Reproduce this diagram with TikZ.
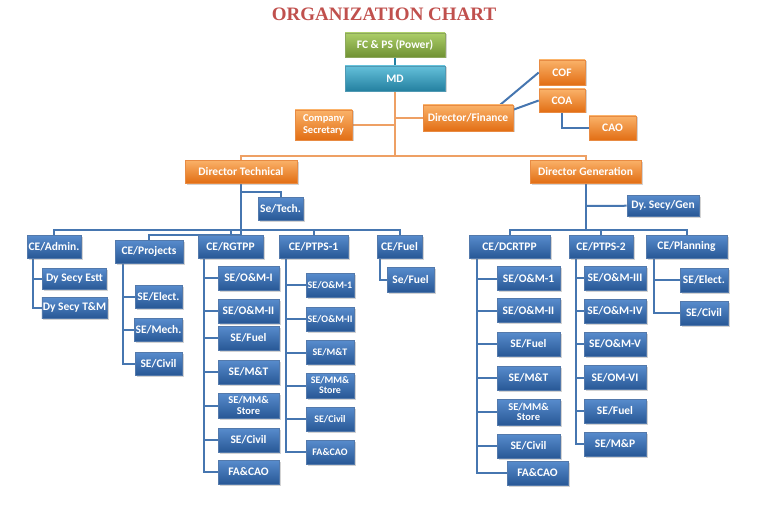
\documentclass[tikz,border=0pt]{standalone}
\usepackage{fontspec}
\setmainfont{Carlito}
\newfontfamily\titlefont{Liberation Serif}
\usetikzlibrary{positioning,shadows,backgrounds}
\definecolor{chartred}{RGB}{192,80,77}
\definecolor{bluelt}{RGB}{88,140,205}
\definecolor{bluedk}{RGB}{40,88,150}
\definecolor{orglt}{RGB}{250,178,105}
\definecolor{orgdk}{RGB}{226,110,20}
\definecolor{grnlt}{RGB}{172,206,104}
\definecolor{grndk}{RGB}{112,146,52}
\definecolor{cynlt}{RGB}{100,192,218}
\definecolor{cyndk}{RGB}{36,128,160}
\definecolor{lineblue}{RGB}{70,118,176}
\definecolor{lineorg}{RGB}{238,160,100}

\begin{document}
\begin{tikzpicture}[x=1pt,y=-1pt,
  font=\bfseries\fontsize{11.5}{12}\selectfont,
  blk/.style={minimum height=23pt,inner sep=1pt,align=center,text=white,line width=0.6pt,
    drop shadow={opacity=0.35,shadow xshift=1.5pt,shadow yshift=-1.5pt}},
  bx/.style={blk,draw=bluedk!80!white,top color=bluelt,bottom color=bluedk,minimum width=#1},
  bx/.default=61pt,
  ob/.style={blk,draw=orgdk!80!white,top color=orglt,bottom color=orgdk,minimum width=#1},
  ob/.default=46pt,
  se/.style={bx=#1,minimum height=24pt},
  se/.default=61pt,
  sm/.style={se=48pt,font=\bfseries\fontsize{10}{10}\selectfont},
  two/.style={font=\bfseries\fontsize{10.5}{10.5}\selectfont},
  bl/.style={draw=lineblue,line width=2pt},
  ol/.style={draw=lineorg,line width=2pt}]

\useasboundingbox (0,0) rectangle (768,532);

\node[font=\titlefont\bfseries\fontsize{19}{20}\selectfont,text=chartred] (title) at (384,14) {ORGANIZATION CHART};

% top of the chart
\node[blk,draw=grndk!80!white,top color=grnlt,bottom color=grndk,minimum width=100pt,minimum height=24pt] (fcps) at (395,45) {FC \& PS (Power)};
\node[blk,draw=cyndk!80!white,top color=cynlt,bottom color=cyndk,minimum width=100pt,minimum height=25pt] (md) at (395,78.5) {MD};
\node[ob=57pt,minimum height=30pt,font=\bfseries\fontsize{10.5}{12}\selectfont] (cosec) at (323.5,125) {Company\\Secretary};
\node[ob=90pt,minimum height=26pt] (dirfin) at (468,118) {Director/Finance};
\node[ob,minimum height=25pt] (cof) at (562,72.5) {COF};
\node[ob] (coa) at (562,100.5) {COA};
\node[ob=47pt,minimum height=24pt] (cao) at (612.5,128) {CAO};
\node[ob=112pt] (dirtech) at (241,171.5) {Director Technical};
\node[ob=111pt] (dirgen) at (585.5,171.5) {Director Generation};

% technical wing
\node[bx=45pt] (setech) at (280.5,208.5) {Se/Tech.};
\node[bx=54pt] (ceadmin) at (54,246.5) {CE/Admin.};
\node[bx=64pt,minimum height=21pt] (dyestt) at (74.5,279) {Dy Secy Estt};
\node[bx=64pt,minimum height=21pt] (dytm) at (74.5,307.5) {Dy Secy T\&M};
\node[bx=68pt] (ceproj) at (149,251.5) {CE/Projects};
\node[bx=47pt] (prelect) at (158.5,296.5) {SE/Elect.};
\node[bx=47pt] (prmech) at (158.5,330) {SE/Mech.};
\node[bx=47pt] (prcivil) at (158.5,363.5) {SE/Civil};
\node[bx=65pt] (cergtpp) at (230.5,246.5) {CE/RGTPP};
\node[se] (rgom1) at (248.5,278) {SE/O\&M-I};
\node[se] (rgom2) at (248.5,311) {SE/O\&M-II};
\node[se] (rgfuel) at (248.5,338) {SE/Fuel};
\node[se] (rgmt) at (248.5,372) {SE/M\&T};
\node[se,minimum height=25pt,two] (rgmm) at (248.5,405.5) {SE/MM\&\\Store};
\node[se] (rgcivil) at (248.5,440) {SE/Civil};
\node[se] (rgfa) at (248.5,472) {FA\&CAO};
\node[bx=69pt] (ceptps1) at (313.5,246.5) {CE/PTPS-1};
\node[sm] (p1om1) at (330,285) {SE/O\&M-1};
\node[sm] (p1om2) at (330,319) {SE/O\&M-II};
\node[sm] (p1mt) at (330,352.5) {SE/M\&T};
\node[sm,minimum height=25pt] (p1mm) at (330,385.5) {SE/MM\&\\Store};
\node[sm] (p1civil) at (330,419) {SE/Civil};
\node[sm] (p1fa) at (330,452) {FA\&CAO};
\node[bx=45pt] (cefuel) at (399.5,246.5) {CE/Fuel};
\node[bx=47pt,minimum height=25pt] (sefuel) at (410.5,279.5) {Se/Fuel};

% generation wing
\node[bx=72pt,minimum height=21pt] (dygen) at (663,205.5) {Dy.\ Secy/Gen};
\node[bx=81pt] (cedcr) at (509.5,246.5) {CE/DCRTPP};
\node[se=63pt] (dcom1) at (528.5,278.5) {SE/O\&M-1};
\node[se=63pt] (dcom2) at (528.5,310.5) {SE/O\&M-II};
\node[se=63pt] (dcfuel) at (528.5,344) {SE/Fuel};
\node[se=63pt] (dcmt) at (528.5,378) {SE/M\&T};
\node[se=63pt,minimum height=26pt,two] (dcmm) at (528.5,412) {SE/MM\&\\Store};
\node[se=63pt] (dccivil) at (528.5,446) {SE/Civil};
\node[se] (dcfa) at (537.5,473) {FA\&CAO};
\node[bx=64pt] (ceptps2) at (601,246.5) {CE/PTPS-2};
\node[se=62pt] (p2om3) at (615,278) {SE/O\&M-III};
\node[se=62pt] (p2om4) at (615,311) {SE/O\&M-IV};
\node[se=62pt] (p2om5) at (615,344) {SE/O\&M-V};
\node[se=62pt] (p2om6) at (615,377.5) {SE/OM-VI};
\node[se=62pt] (p2fuel) at (615,411) {SE/Fuel};
\node[se=62pt] (p2mp) at (615,444) {SE/M\&P};
\node[bx=81pt] (ceplan) at (686.5,246.5) {CE/Planning};
\node[se=48pt] (plelect) at (704,280) {SE/Elect.};
\node[se=48pt] (plcivil) at (704,313) {SE/Civil};

\begin{scope}[on background layer]
% orange spine
\coordinate (hub) at (395,156);
\draw[draw=cyndk,line width=2pt] (fcps) -- (md);
\draw[ol] (md) -- (hub);
\draw[ol] (cosec) -- (cosec -| hub);
\draw[ol] (dirfin) -- (dirfin -| hub);
\draw[ol] (dirtech) |- (hub) -| (dirgen);
% finance
\draw[bl] ([xshift=-13pt]dirfin.north east) -- (cof.west);
\draw[bl] ([yshift=-5pt]dirfin.north east) -- (coa.west);
\draw[bl] (coa) |- (cao);
% technical buses
\coordinate (ttap) at (241,192);
\coordinate (tbus) at (241,230);
\coordinate (pbus) at (241,235);
\draw[bl] (dirtech) -- (pbus);
\draw[bl] (ttap) -| (setech);
\draw[bl] (pbus) -| (ceproj);
\foreach \c in {ceadmin,cergtpp,ceptps1,cefuel} \draw[bl] (tbus) -| (\c);
% generation buses
\coordinate (gtap) at (585.5,206);
\coordinate (gbus) at (585.5,230);
\draw[bl] (dirgen) -- (gbus);
\draw[bl] (gtap) -- (dygen);
\foreach \c in {cedcr,ceptps2,ceplan} \draw[bl] (gbus) -| (\c);
% sections under each CE
\foreach \c in {dyestt,dytm} \draw[bl] ([xshift=-21pt]ceadmin.south) |- (\c);
\foreach \c in {prelect,prmech,prcivil} \draw[bl] ([xshift=-26pt]ceproj.south) |- (\c);
\foreach \c in {rgom1,rgom2,rgfuel,rgmt,rgmm,rgcivil,rgfa} \draw[bl] ([xshift=-26.5pt]cergtpp.south) |- (\c);
\foreach \c in {p1om1,p1om2,p1mt,p1mm,p1civil,p1fa} \draw[bl] ([xshift=-27.5pt]ceptps1.south) |- (\c);
\draw[bl] ([xshift=-19.5pt]cefuel.south) |- (sefuel);
\foreach \c in {dcom1,dcom2,dcfuel,dcmt,dcmm,dccivil,dcfa} \draw[bl] ([xshift=-32.5pt]cedcr.south) |- (\c);
\foreach \c in {p2om3,p2om4,p2om5,p2om6,p2fuel,p2mp} \draw[bl] ([xshift=-25pt]ceptps2.south) |- (\c);
\foreach \c in {plelect,plcivil} \draw[bl] ([xshift=-32.5pt]ceplan.south) |- (\c);
\end{scope}
\end{tikzpicture}
\end{document}
